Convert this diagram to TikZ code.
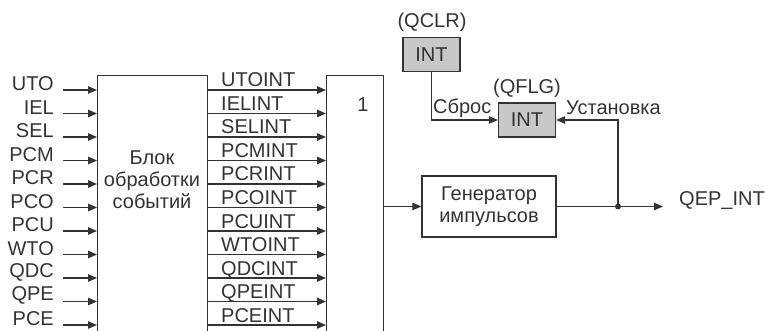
\documentclass[tikz,border=0pt]{standalone}
\usepackage{fontspec}
\setmainfont{Liberation Sans}
\usetikzlibrary{arrows.meta}
\definecolor{ink}{HTML}{333333}
\definecolor{boxgray}{HTML}{C8C8C8}
\begin{document}
\begin{tikzpicture}[x=1pt,y=-1pt,
  font=\fontsize{20}{22}\selectfont,
  blk/.style={draw=ink, line width=1.3pt, fill=white, inner sep=0pt},
  gbox/.style={draw=ink, line width=1.3pt, fill=boxgray, inner sep=0pt, minimum width=57pt, minimum height=34pt, text=ink},
  conn/.style={draw=ink, line width=1.2pt, -{Triangle[length=9pt,width=7.5pt]}},
  wire/.style={draw=ink, line width=1.2pt},
  lbl/.style={text=ink, inner sep=0pt}]
\useasboundingbox (0,0) rectangle (768,331);
\clip (0,0) rectangle (768,331);
% event block
\node[blk, minimum width=110pt, minimum height=290pt, anchor=north west] (blk) at (97,75) {};
\node[lbl, align=center] (blktxt) at (152,180) {Блок\\обработки\\событий};
% OR block
\node[blk, minimum width=57pt, minimum height=290pt, anchor=north west] (orb) at (326,75) {};
\node[lbl] (one) at (363,105) {1};
% inputs and outputs
\foreach \n [count=\i from 0] in {UTO,IEL,SEL,PCM,PCR,PCO,PCU,WTO,QDC,QPE,PCE} {
  \pgfmathsetmacro\yy{90+23.5*\i}
  \coordinate (in\i) at (63,\yy);
  \coordinate (r\i) at (0,\yy);
  \node[lbl, anchor=east] (inl\i) at (54,\yy-6) {\n};
  \draw[conn] (in\i) -- (in\i -| blk.west);
  \draw[conn] (blk.east |- r\i) -- (orb.west |- r\i);
  \node[lbl, anchor=base west] (outl\i) at (221,\yy-3) {\n INT};
}
% generator
\node[blk, minimum width=134pt, minimum height=61pt, align=center, text=ink] (gen) at (489,206.5) {Генератор\\импульсов};
\draw[conn] (orb.east |- gen.west) -- (gen.west);
\coordinate (j) at (618,206.5);
\coordinate (out) at (663,206.5);
\draw[wire] (gen.east) -- (j);
\fill[ink] (j) circle (3pt);
\draw[conn] (j) -- (out);
\node[lbl, anchor=west] (qep) at (679,201) {QEP\_INT};
% flag boxes
\node[gbox] (qclr) at (431.5,54.5) {INT};
\node[gbox] (qflg) at (527,120) {INT};
\node[lbl] (qclrl) at (432,22) {(QCLR)};
\node[lbl] (qflgl) at (527,88) {(QFLG)};
\draw[conn] (qclr.south) |- (qflg.west);
\draw[conn] (j) |- (qflg.east);
\node[lbl, anchor=west] (sbros) at (433,108) {Сброс};
\node[lbl, anchor=west] (ustan) at (566,108) {Установка};
\end{tikzpicture}
\end{document}
